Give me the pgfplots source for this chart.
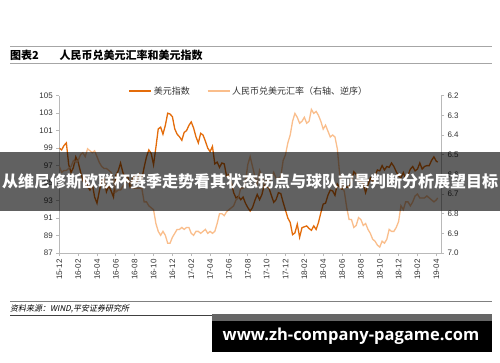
\documentclass[border=0pt]{standalone}
\usepackage{pgfplots}
\pgfplotsset{compat=1.18}
\usepackage{pgfplotstable}
\usepackage{fontspec}
\setmainfont{Liberation Sans}
\newfontfamily\cjk{Noto Sans CJK SC}
\newfontfamily\cjkit{Noto Sans CJK SC}[FakeSlant=0.2]
\newfontfamily\webfont{Open Sans}
\definecolor{usd}{RGB}{228,108,10}
\definecolor{cny}{RGB}{250,190,140}
\definecolor{axgray}{RGB}{185,185,185}

\pgfplotstableread{
x usd cny
0 99.0 6.56
0.25 98.8 6.59
0.5 99.3 6.58
0.75 99.6 6.58
1 97.1 6.57
1.25 96.2 6.56
1.5 96.8 6.53
1.75 98.0 6.54
2 97.4 6.53
2.25 96.3 6.50
2.5 95.3 6.49
2.75 95.6 6.51
3 94.6 6.47
3.25 94.2 6.48
3.5 94.9 6.49
3.75 93.4 6.48
4 92.7 6.51
4.25 94.1 6.54
4.5 95.3 6.56
4.75 95.5 6.57
5 94.0 6.57
5.25 94.7 6.58
5.5 94.1 6.59
5.75 93.4 6.64
6 95.9 6.69
6.25 96.4 6.68
6.5 97.3 6.68
6.75 96.2 6.66
7 95.6 6.64
7.25 95.8 6.64
7.5 94.6 6.64
7.75 95.5 6.67
8 95.9 6.67
8.25 95.2 6.67
8.5 96.0 6.67
8.75 95.4 6.67
9 96.8 6.74
9.25 98.0 6.74
9.5 98.8 6.76
9.75 98.4 6.77
10 97.1 6.78
10.25 99.1 6.85
10.5 101.2 6.89
10.75 101.4 6.91
11 100.6 6.89
11.25 101.6 6.91
11.5 103.0 6.95
11.75 102.9 6.95
12 102.6 6.92
12.25 101.2 6.90
12.5 100.6 6.88
12.75 100.3 6.88
13 99.9 6.87
13.25 100.8 6.88
13.5 101.0 6.87
13.75 101.6 6.87
14 102.0 6.90
14.25 101.3 6.91
14.5 100.3 6.89
14.75 99.6 6.89
15 100.7 6.90
15.25 100.5 6.89
15.5 99.8 6.88
15.75 99.0 6.90
16 98.6 6.89
16.25 99.2 6.90
16.5 97.2 6.89
16.75 97.4 6.85
17 96.8 6.80
17.25 97.3 6.80
17.5 97.2 6.81
17.75 95.8 6.79
18 96.0 6.78
18.25 95.1 6.77
18.5 93.9 6.76
18.75 93.3 6.73
19 93.5 6.72
19.25 93.1 6.67
19.5 93.4 6.67
19.75 92.7 6.64
20 92.2 6.55
20.25 91.8 6.51
20.5 92.2 6.56
20.75 93.0 6.61
21 93.7 6.65
21.25 93.1 6.58
21.5 93.7 6.61
21.75 94.8 6.65
22 94.6 6.63
22.25 94.4 6.64
22.5 93.6 6.62
22.75 92.8 6.59
23 93.1 6.62
23.25 93.9 6.62
23.5 93.8 6.61
23.75 92.8 6.53
24 91.9 6.50
24.25 91.0 6.44
24.5 90.5 6.40
24.75 89.1 6.33
25 89.3 6.29
25.25 90.3 6.31
25.5 88.8 6.34
25.75 89.9 6.33
26 90.0 6.31
26.25 90.1 6.34
26.5 89.8 6.33
26.75 89.6 6.27
27 90.1 6.29
27.25 89.7 6.28
27.5 90.5 6.30
27.75 91.6 6.33
28 92.6 6.37
28.25 92.7 6.35
28.5 93.6 6.38
28.75 94.2 6.41
29 94.1 6.40
29.25 93.6 6.41
29.5 94.9 6.47
29.75 94.5 6.60
30 94.3 6.65
30.25 94.8 6.69
30.5 94.5 6.77
30.75 94.6 6.83
31 95.2 6.83
31.25 96.3 6.87
31.5 96.0 6.86
31.75 95.1 6.82
32 95.3 6.83
32.25 94.9 6.86
32.5 93.9 6.85
32.75 94.8 6.88
33 95.6 6.90
33.25 95.2 6.93
33.5 95.8 6.94
33.75 96.5 6.96
34 96.4 6.97
34.25 97.0 6.94
34.5 96.5 6.95
34.75 96.9 6.93
35 96.8 6.88
35.25 97.3 6.89
35.5 96.9 6.89
35.75 96.3 6.87
36 95.8 6.84
36.25 95.6 6.76
36.5 96.2 6.78
36.75 95.5 6.74
37 95.9 6.74
37.25 96.6 6.76
37.5 96.9 6.74
37.75 96.4 6.71
38 96.6 6.70
38.25 97.3 6.72
38.5 96.6 6.72
38.75 96.9 6.72
39 97.0 6.71
39.25 97.0 6.72
39.5 97.6 6.73
39.75 98.0 6.74
40 97.5 6.73
40.15 97.4 6.72
}\data

\begin{document}
\begin{tikzpicture}
\path[use as bounding box, fill=white] (0pt,0pt) rectangle (500pt,362pt);
\coordinate (axsw) at (59.3pt,109pt);
% header
\draw[black!35, line width=1.6pt] (10pt,315.3pt) -- (492pt,315.3pt);
\draw[black!35, line width=1.6pt] (10pt,298.5pt) -- (492pt,298.5pt);
\node[anchor=west, inner sep=0] at (10pt,306.3pt) {\cjk\bfseries\fontsize{11}{13}\selectfont 图表2};
\node[anchor=west, inner sep=0] at (59.5pt,306.3pt) {\cjk\bfseries\fontsize{11}{13}\selectfont 人民币兑美元汇率和美元指数};

\begin{axis}[
  at={(axsw)}, anchor=south west, scale only axis,
  width=381.7pt, height=157.3pt,
  xmin=0, xmax=40.5, ymin=87, ymax=105,
  ytick={87,89,91,93,95,97,99,101,103,105},
  xtick={0,2,...,40},
  xticklabels={15-12,16-02,16-04,16-06,16-08,16-10,16-12,17-02,17-04,17-06,17-08,17-10,17-12,18-02,18-04,18-06,18-08,18-10,18-12,19-02,19-04},
  axis x line*=bottom, axis y line*=left,
  axis line style={axgray, line width=0.8pt},
  tick style={axgray, line width=0.8pt},
  major tick length=3pt, tick align=outside,
  ticklabel style={font=\fontsize{8}{9}\selectfont, text=black!80},
  xticklabel style={rotate=90, anchor=east},
  /pgf/number format/assume math mode=true,
]
\addplot[usd, line width=1.3pt] table[x=x, y=usd] {\data};
\end{axis}

\begin{axis}[
  at={(axsw)}, anchor=south west, scale only axis,
  width=381.7pt, height=157.3pt,
  xmin=0, xmax=40.5, ymin=-7.0, ymax=-6.2,
  axis x line=none, axis y line*=right,
  ytick={-7.0,-6.9,-6.8,-6.7,-6.6,-6.5,-6.4,-6.3,-6.2},
  yticklabels={7.0,6.9,6.8,6.7,6.6,6.5,6.4,6.3,6.2},
  axis line style={axgray, line width=0.8pt},
  tick style={axgray, line width=0.8pt},
  major tick length=3pt, tick align=outside,
  ticklabel style={font=\fontsize{8}{9}\selectfont, text=black!80},
  legend columns=2,
  legend style={at={(0.181,1.03)}, anchor=west, draw=none, fill=none,
    font=\cjk\fontsize{9}{10}\selectfont, text=black!80, inner sep=0pt,
    /tikz/every even column/.append style={column sep=15pt}},
  legend image code/.code={\draw[#1] (0pt,0pt) -- (22pt,0pt);},
]
\addlegendimage{usd, line width=1.3pt}
\addlegendentry{美元指数}
\addplot[cny, line width=1.3pt] table[x=x, y expr=-\thisrow{cny}] {\data};
\addlegendentry{人民币兑美元汇率（右轴、逆序）}
\end{axis}

% footer
\draw[black!50, line width=0.8pt] (10pt,60.3pt) -- (492pt,60.3pt);
\node[anchor=west, inner sep=0] at (10pt,52.7pt) {\cjkit\fontsize{8}{9}\selectfont 资料来源：WIND,平安证券研究所};
\draw[black!75, line width=0.8pt] (10pt,46.5pt) -- (492pt,46.5pt);

% overlay banner
\fill[black, opacity=0.62] (0pt,151pt) rectangle (500pt,210pt);
\node[white, inner sep=0] at (250pt,180.5pt) {\cjk\bfseries\fontsize{16}{18}\selectfont 从维尼修斯欧联杯赛季走势看其状态拐点与球队前景判断分析展望目标};

% website box
\fill[black!60] (211.7pt,41pt) rectangle (491.7pt,47.7pt);
\fill[black] (211.7pt,9.7pt) rectangle (491.7pt,41pt);
\node[white, inner sep=0] at (351pt,25.5pt) {\webfont\bfseries\fontsize{16.5}{20}\selectfont www.zh-company-pagame.com};
\end{tikzpicture}
\end{document}
